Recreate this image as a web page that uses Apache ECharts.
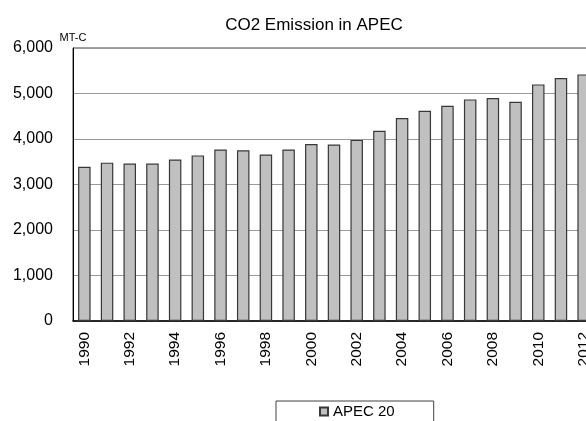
<!DOCTYPE html>
<html>
<head>
<meta charset="utf-8">
<script src="https://cdn.jsdelivr.net/npm/echarts@6/dist/echarts.min.js"></script>
<style>
html,body{margin:0;padding:0;overflow:hidden;background:#fff;width:586px;height:421px;}
#c{width:628px;height:421px;}
</style>
</head>
<body>
<div id="c"></div>
<script>
const years = ['1990','1991','1992','1993','1994','1995','1996','1997','1998','1999','2000','2001','2002','2003','2004','2005','2006','2007','2008','2009','2010','2011','2012'];
const apec20 = [3390,3480,3460,3460,3550,3640,3770,3750,3660,3770,3890,3880,3980,4180,4460,4620,4730,4870,4900,4820,5200,5340,5420];
const yTicks = {min:0, max:6000, interval:1000};
const seriesName = 'APEC 20';
const titleText = 'CO2 Emission in APEC';
const unitText = 'MT-C';

const font = "'Liberation Sans', Arial, sans-serif";
const chart = echarts.init(document.getElementById('c'), null, {renderer:'canvas'});
chart.setOption({
  animation:false,
  title:{text:titleText,left:'center',top:12,textStyle:{fontFamily:font,fontSize:17,fontWeight:'normal',color:'#000'}},
  grid:{left:73,right:33,top:48,bottom:100,show:true,borderColor:'#404040',borderWidth:1},
  legend:{
    data:[seriesName],left:276,top:401,
    padding:[3,39,10,43],
    borderColor:'#404040',borderWidth:1,
    itemWidth:8,itemHeight:8,icon:'rect',
    textStyle:{fontFamily:font,fontSize:15,color:'#000'}
  },
  xAxis:{
    type:'category',data:years,
    axisLine:{show:true,lineStyle:{color:'#000',width:1.5}},
    axisTick:{show:false},
    axisLabel:{interval:1,rotate:90,margin:11,fontFamily:font,fontSize:15.5,color:'#000'}
  },
  yAxis:{
    type:'value',min:yTicks.min,max:yTicks.max,interval:yTicks.interval,
    name:unitText,nameLocation:'end',nameGap:5,
    nameTextStyle:{fontFamily:font,fontSize:11,color:'#000',align:'center'},
    axisLine:{show:true,lineStyle:{color:'#000',width:1}},
    axisTick:{show:false},
    splitLine:{lineStyle:{color:'#9a9a9a',width:1}},
    axisLabel:{margin:20,fontFamily:font,fontSize:16,color:'#000',
      formatter:v=>v.toLocaleString('en-US')}
  },
  series:[{
    name:seriesName,type:'bar',data:apec20,barWidth:12.5,
    itemStyle:{color:'#c0c0c0',borderColor:'#383838',borderWidth:1.2}
  }]
});
</script>
</body>
</html>
